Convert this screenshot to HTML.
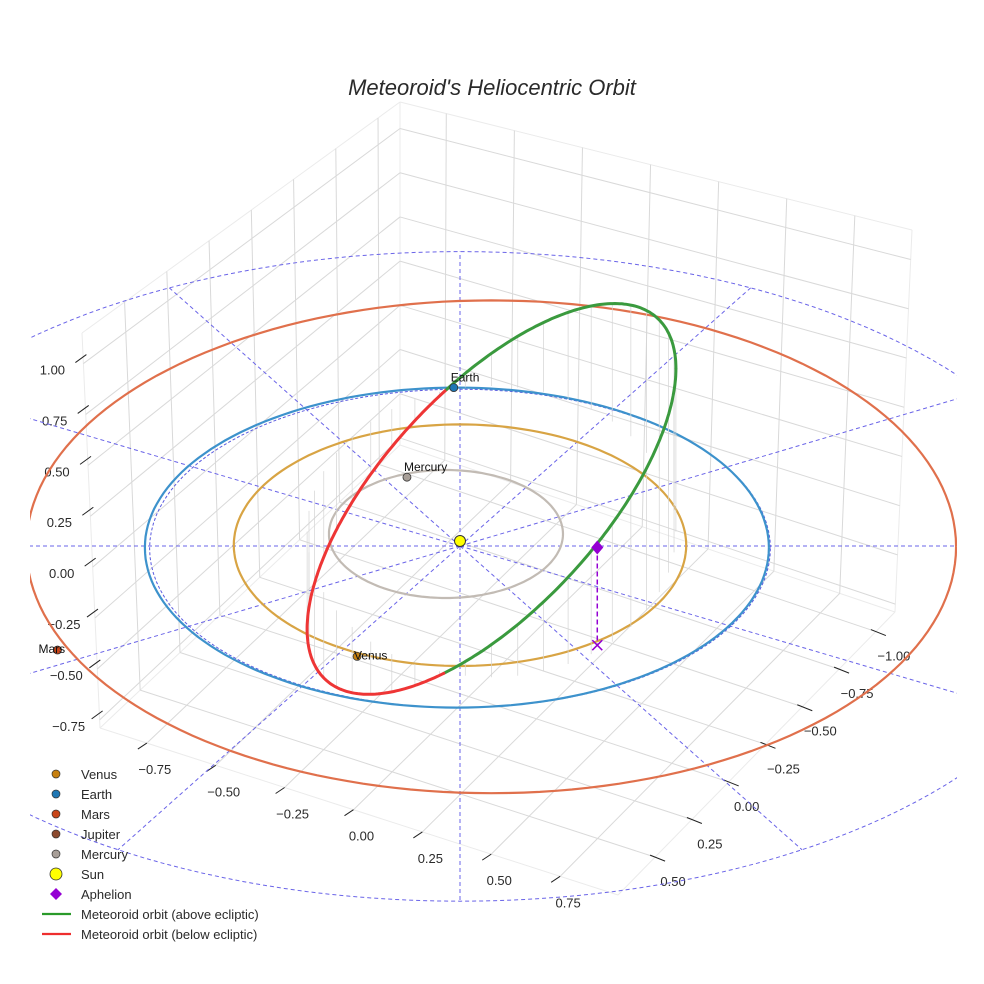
<!DOCTYPE html>
<html><head><meta charset="utf-8"><title>Meteoroid's Heliocentric Orbit</title>
<style>
html,body{margin:0;padding:0;background:#fff;}
svg{display:block;font-family:"Liberation Sans",Arial,sans-serif;}
</style></head>
<body>
<svg id="chart" width="984" height="984" viewBox="0 0 984 984">
<defs><clipPath id="clip"><rect x="30" y="0" width="927" height="984"/></clipPath></defs>
<rect x="0" y="0" width="984" height="984" fill="#fff"/>
<text x="492" y="95" text-anchor="middle" font-size="22" font-style="italic" fill="#2a2a2a">Meteoroid's Heliocentric Orbit</text>
<g id="grid"></g>
<g id="axes"></g>
<g id="plot" clip-path="url(#clip)"></g>
<g id="legend"></g>
</svg>
<script>
// ---------- data ----------
const xTicks = [-0.75, -0.5, -0.25, 0, 0.25, 0.5, 0.75];
const xTickLabels = ["\u22120.75","\u22120.50","\u22120.25","0.00","0.25","0.50","0.75"];
const yTicks = [-1, -0.75, -0.5, -0.25, 0, 0.25, 0.5];
const yTickLabels = ["\u22121.00","\u22120.75","\u22120.50","\u22120.25","0.00","0.25","0.50"];
const zTicks = [-0.75, -0.5, -0.25, 0, 0.25, 0.5, 0.75, 1.0];
const zTickLabels = ["\u22120.75","\u22120.50","\u22120.25","0.00","0.25","0.50","0.75","1.00"];
const xRange = [-0.92, 0.96];
const yRange = [-1.13, 0.752];
const zRange = [-0.79, 1.15];

const planetNames = ["Venus", "Earth", "Mars", "Jupiter", "Mercury"];
const planetColors = ["#c7800f", "#1f77b4", "#c8461a", "#8c4a2f", "#a89f98"];
const orbitColors = ["#d8a444", "#3d92cc", "#e0704c", "#8c4a2f", "#c2bbb4"];
const orbitCenterX = [0.0, -0.01, 0.1, 0, -0.045];
const orbitCenterY = [-0.005, 0.01, 0.005, 0, -0.075];
const orbitSemiX = [0.725, 1.0, 1.49, 0, 0.375];
const orbitSemiY = [0.755, 1.0, 1.54, 0, 0.4];
const planetX = [-0.33, -0.02, -1.29, null, -0.17];
const planetY = [0.69, -0.99, 0.65, null, -0.43];

const meteorCenter = [0.101, -0.09];
const meteorSemi = [0.591, 0.91];
const meteorSlope = [1.06];
const meteorZOffset = [0.05];
const aphelion = [0.44, 0.62, 0.47];

const ringRadius = [2.03];
const ringCenterY = [0.19];
const spokeAngles = [0, 30, 60, 90, 120, 150, 180, 210, 240, 270, 300, 330];

// ---------- projection ----------
const NS = "http://www.w3.org/2000/svg";
function P(X, Y, Z) { return [460 + 312 * X, 546 + 160 * Y - 208 * (Z || 0)]; }
function mk(tag, attrs, parent) {
  const e = document.createElementNS(NS, tag);
  for (const k in attrs) e.setAttribute(k, attrs[k]);
  parent.appendChild(e);
  return e;
}
function lerp(a, b, t) { return [a[0] + (b[0] - a[0]) * t, a[1] + (b[1] - a[1]) * t]; }
function quad(c00, c10, c11, c01, s, t) { return lerp(lerp(c00, c10, s), lerp(c01, c11, s), t); }

const L = [100, 728], F = [618, 895], R = [895, 612], B = [400, 445];
const TL = [82, 333], TB = [400, 102], TR = [912, 230];
const sx = x => (x - xRange[0]) / (xRange[1] - xRange[0]);
const ty = y => (yRange[1] - y) / (yRange[1] - yRange[0]);
const wz = z => (z - zRange[0]) / (zRange[1] - zRange[0]);
function floorPt(x, y) { return quad(L, F, R, B, sx(x), ty(y)); }
function leftWall(y, z) { return quad(L, B, TB, TL, ty(y), wz(z)); }
function rightWall(x, z) { return quad(B, R, TR, TB, sx(x), wz(z)); }

const grid = document.getElementById('grid');
function gline(a, b, col, w) {
  return mk('line', {x1: a[0], y1: a[1], x2: b[0], y2: b[1], stroke: col, 'stroke-width': w}, grid);
}
[[L, B], [B, R], [L, F], [F, R], [L, TL], [B, TB], [R, TR], [TL, TB], [TB, TR]].forEach(e => {
  const l = gline(e[0], e[1], '#ebebeb', 1);
  
  
});
const GC = '#d9d9d9';
xTicks.forEach(x => {
  let l = gline(floorPt(x, yRange[1]), floorPt(x, yRange[0]), GC, 1);
  
  
  l = gline(rightWall(x, zRange[0]), rightWall(x, zRange[1]), GC, 1);
  
  
});
yTicks.forEach(y => {
  let l = gline(floorPt(xRange[0], y), floorPt(xRange[1], y), GC, 1);
  
  
  l = gline(leftWall(y, zRange[0]), leftWall(y, zRange[1]), GC, 1);
  
  
});
zTicks.forEach(z => {
  let l = gline(leftWall(yRange[1], z), leftWall(yRange[0], z), GC, 1);
  
  
  l = gline(rightWall(xRange[0], z), rightWall(xRange[1], z), GC, 1);
  
  
});

const axes = document.getElementById('axes');
function tickText(p, txt, name) {
  const t = mk('text', {x: p[0], y: p[1], 'text-anchor': 'middle', 'font-size': 13, fill: '#2a2a2a'}, axes);
  t.textContent = txt;
  
  
}
function tickMark(a, b, name) {
  const l = mk('line', {x1: a[0], y1: a[1], x2: b[0], y2: b[1], stroke: '#222', 'stroke-width': 1}, axes);
  
  
}
xTicks.forEach((x, i) => {
  const E = floorPt(x, yRange[1]);
  tickMark([E[0] - 9, E[1] + 6], E, 'x-tick');
  tickText([E[0] + 8, E[1] + 31], xTickLabels[i], 'x-tick-label');
});
yTicks.forEach((y, i) => {
  const E = floorPt(xRange[1], y);
  tickMark([E[0] - 5, E[1] - 2], [E[0] + 10, E[1] + 4], 'y-tick');
  tickText([E[0] + 18, E[1] + 29], yTickLabels[i], 'y-tick-label');
});
zTicks.forEach((z, i) => {
  const E = leftWall(yRange[1], z);
  tickMark([E[0] - 8, E[1] - 1], [E[0] + 3, E[1] - 9], 'z-tick');
  tickText([E[0] - 31, E[1] + 11], zTickLabels[i], 'z-tick-label');
});

// ---------- plot ----------
const plot = document.getElementById('plot');
function pathFrom(pts) { return pts.map((p, i) => (i ? 'L' : 'M') + p[0].toFixed(1) + ' ' + p[1].toFixed(1)).join(' '); }

const ringPts = [];
for (let k = 0; k <= 180; k++) {
  const a = k / 180 * 2 * Math.PI;
  ringPts.push(P(ringRadius[0] * Math.cos(a), ringCenterY[0] + ringRadius[0] * Math.sin(a), 0));
}
let el = mk('path', {d: pathFrom(ringPts), fill: 'none', stroke: '#6a64e8', 'stroke-width': 1, 'stroke-dasharray': '4 3'}, plot);


spokeAngles.forEach(deg => {
  const a = deg * Math.PI / 180, dx = Math.cos(a), dy = Math.sin(a);
  const c = ringCenterY[0], r = ringRadius[0];
  const bq = -2 * dy * c, cq = c * c - r * r;
  const t = (-bq + Math.sqrt(bq * bq - 4 * cq)) / 2;
  const a0 = P(0, 0, 0), a1 = P(t * dx, t * dy, 0);
  const l = mk('line', {x1: a0[0], y1: a0[1], x2: a1[0], y2: a1[1], stroke: '#6a64e8', 'stroke-width': 1, 'stroke-dasharray': '4 3'}, plot);
  
  
});

const eref = [];
for (let k = 0; k <= 120; k++) {
  const a = k / 120 * 2 * Math.PI;
  eref.push(P(0.0 + 0.995 * Math.cos(a), 0.015 + 0.995 * Math.sin(a), 0));
}
el = mk('path', {d: pathFrom(eref), fill: 'none', stroke: '#5a5ae0', 'stroke-width': 1, 'stroke-dasharray': '3 2'}, plot);



planetNames.forEach((n, i) => {
  if (!orbitSemiX[i]) return;
  const pts = [];
  for (let k = 0; k <= 180; k++) {
    const a = k / 180 * 2 * Math.PI;
    pts.push(P(orbitCenterX[i] + orbitSemiX[i] * Math.cos(a), orbitCenterY[i] + orbitSemiY[i] * Math.sin(a), 0));
  }
  const o = mk('path', {d: pathFrom(pts), fill: 'none', stroke: orbitColors[i], 'stroke-width': 2.2}, plot);
  
  
});

function meteor(t) {
  const X = meteorCenter[0] + meteorSemi[0] * Math.cos(t);
  const Y = meteorCenter[1] + meteorSemi[1] * Math.sin(t);
  return [X, Y, meteorSlope[0] * X + meteorZOffset[0]];
}
const N = 360;
let segs = [], cur = null, curSign = null;
for (let k = 0; k <= N; k++) {
  const m = meteor(k / N * 2 * Math.PI);
  const s = m[2] >= 0;
  if (curSign === null || s !== curSign) { if (cur) { cur.pts.push(P(m[0], m[1], m[2])); segs.push(cur); } cur = {above: s, pts: []}; curSign = s; }
  cur.pts.push(P(m[0], m[1], m[2]));
}
segs.push(cur);
for (let k = 0; k < 44; k++) {
  const m = meteor(k / 44 * 2 * Math.PI);
  const a = P(m[0], m[1], m[2]), b = P(m[0], m[1], 0);
  const l = mk('line', {x1: a[0], y1: a[1], x2: b[0], y2: b[1], stroke: '#d4d4d4', 'stroke-width': 0.7}, plot);
  
  
}
segs.forEach(sg => {
  const p = mk('path', {d: pathFrom(sg.pts), fill: 'none', stroke: sg.above ? '#3a9a3e' : '#ee3535', 'stroke-width': 3, 'stroke-linecap': 'round'}, plot);
  
  
});

const ap = P(aphelion[0], aphelion[1], aphelion[2]), apf = P(aphelion[0], aphelion[1], 0);
el = mk('line', {x1: ap[0], y1: ap[1], x2: apf[0], y2: apf[1], stroke: '#9400d3', 'stroke-width': 1.5, 'stroke-dasharray': '5 3'}, plot);


el = mk('path', {d: `M${apf[0]-5} ${apf[1]-5} L${apf[0]+5} ${apf[1]+5} M${apf[0]+5} ${apf[1]-5} L${apf[0]-5} ${apf[1]+5}`, stroke: '#9400d3', 'stroke-width': 1.5, fill: 'none'}, plot);


el = mk('path', {d: `M${ap[0]} ${ap[1]-7} L${ap[0]+6} ${ap[1]} L${ap[0]} ${ap[1]+7} L${ap[0]-6} ${ap[1]} Z`, fill: '#9400d3'}, plot);



planetNames.forEach((n, i) => {
  if (planetX[i] === null) return;
  const p = P(planetX[i], planetY[i], 0);
  const c = mk('circle', {cx: p[0], cy: p[1], r: 4, fill: planetColors[i], stroke: '#333', 'stroke-width': 0.8}, plot);
  
  
  const t = mk('text', {x: p[0] - 3, y: p[1] - 6 + (n === 'Venus' || n === 'Mars' ? 9 : 0), 'font-size': 12, fill: '#111'}, plot);
  if (n === 'Mars') t.setAttribute('x', p[0] - 19);
  t.textContent = n;
  
  
});
const sp = P(0, 0, 0);
el = mk('circle', {cx: sp[0], cy: sp[1] - 5, r: 5.5, fill: '#ffff00', stroke: '#333', 'stroke-width': 1}, plot);



// ---------- legend ----------
const legend = document.getElementById('legend');
const legendLabels = ["Venus", "Earth", "Mars", "Jupiter", "Mercury", "Sun", "Aphelion", "Meteoroid orbit (above ecliptic)", "Meteoroid orbit (below ecliptic)"];
const legendTypes = ["dot", "dot", "dot", "dot", "dot", "sun", "diamond", "line", "line"];
const legendColors = ["#c7800f", "#1f77b4", "#c8461a", "#8c4a2f", "#a89f98", "#ffff00", "#9400d3", "#2a9a2a", "#ee2e2e"];
legendLabels.forEach((lab, i) => {
  const y = 774 + i * 20;
  const g = mk('g', {}, legend);
  
  
  const ty_ = legendTypes[i];
  if (ty_ === 'dot') mk('circle', {cx: 56, cy: y, r: 4, fill: legendColors[i], stroke: '#333', 'stroke-width': 0.7}, g);
  else if (ty_ === 'sun') mk('circle', {cx: 56, cy: y, r: 6, fill: legendColors[i], stroke: '#333', 'stroke-width': 0.8}, g);
  else if (ty_ === 'diamond') mk('path', {d: `M56 ${y-6} L62 ${y} L56 ${y+6} L50 ${y} Z`, fill: legendColors[i]}, g);
  else mk('line', {x1: 42, y1: y, x2: 71, y2: y, stroke: legendColors[i], 'stroke-width': 2.2}, g);
  const t = mk('text', {x: 81, y: y + 5, 'font-size': 13, fill: '#2a2a2a'}, g);
  t.textContent = lab;
});
</script>
</body></html>
